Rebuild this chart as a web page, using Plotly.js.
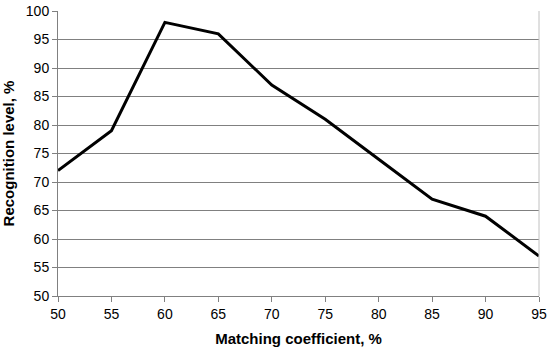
<!DOCTYPE html>
<html><head><meta charset="utf-8">
<script src="https://cdn.plot.ly/plotly-3.0.1.min.js"></script>
<style>html,body{margin:0;padding:0;background:#fff}#chart{width:550px;height:353px}</style>
</head><body><div id="chart"></div>
<script>
const matchingCoefficient = [50, 55, 60, 65, 70, 75, 80, 85, 90, 95];
const recognitionLevel = [72, 79, 98, 96, 87, 81, 74, 67, 64, 57];
const xTicks = [50, 55, 60, 65, 70, 75, 80, 85, 90, 95];
const yTicks = [50, 55, 60, 65, 70, 75, 80, 85, 90, 95, 100];

Plotly.newPlot('chart', [{
  x: matchingCoefficient, y: recognitionLevel, type: 'scatter', mode: 'lines',
  line: {color: '#000', width: 3}, hoverinfo: 'none'
}], {
  width: 550, height: 353,
  margin: {l: 58, r: 11, t: 11, b: 57},
  paper_bgcolor: '#fff', plot_bgcolor: '#fff',
  showlegend: false,
  font: {family: 'Liberation Sans, Arial, sans-serif', color: '#000', size: 14},
  xaxis: {
    range: [50, 95], tickvals: xTicks, ticktext: xTicks.map(String),
    showgrid: false, zeroline: false,
    showline: true, linecolor: '#808080', linewidth: 1, mirror: false,
    ticks: 'outside', ticklen: 5, tickcolor: '#808080',
    tickfont: {size: 14},
    title: {text: '<b>Matching coefficient, %</b>', font: {size: 15}, standoff: 12}
  },
  yaxis: {
    range: [50, 100], tickvals: yTicks, ticktext: yTicks.map(String),
    showgrid: true, gridcolor: '#808080', gridwidth: 1, zeroline: false,
    showline: true, linecolor: '#808080', linewidth: 1,
    ticks: 'outside', ticklen: 5, tickcolor: '#808080',
    tickfont: {size: 14},
    title: {text: '<b>Recognition level, %</b>', font: {size: 15}, standoff: 7}
  },
  shapes: [{type: 'line', xref: 'paper', yref: 'paper', x0: 1, x1: 1, y0: 0, y1: 1,
    line: {color: '#c0c0c0', width: 1}}]
}, {displayModeBar: false, staticPlot: true});
</script></body></html>
